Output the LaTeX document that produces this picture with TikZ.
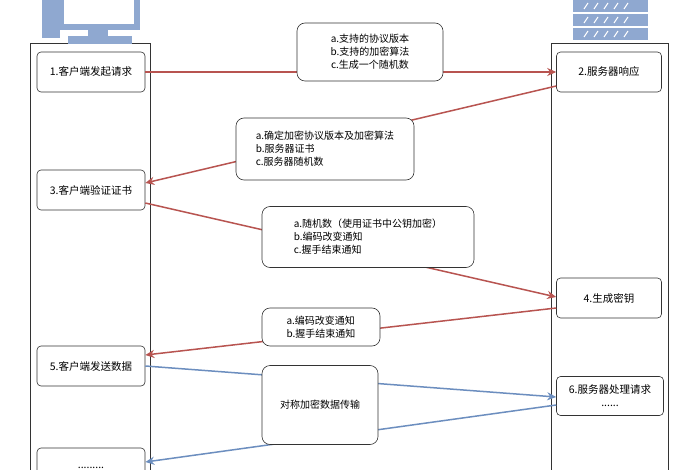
\documentclass[tikz,border=0pt]{standalone}
\usepackage{fontspec}
\setmainfont{Noto Sans CJK SC}
\usetikzlibrary{arrows.meta}
\definecolor{redl}{HTML}{B85450}
\definecolor{bluel}{HTML}{6C8EBF}
\definecolor{icon}{HTML}{8FA8D0}
\tikzset{
 col/.style={draw=black!80,line width=0.6pt,fill=white},
 stepbox/.style={draw=black!80,rounded corners=4pt,fill=white,line width=0.6pt,font=\fontsize{10.5}{13}\selectfont,align=center},
 lbl/.style={draw=black!80,rounded corners=8pt,fill=white,line width=0.6pt,font=\fontsize{10}{13}\selectfont,align=left},
 ra/.style={draw=redl,line width=1.5pt,-{Stealth[length=9pt,width=8pt]}},
 ba/.style={draw=bluel,line width=1.5pt,-{Stealth[length=9pt,width=8pt]}}
}
\begin{document}
\begin{tikzpicture}[x=1pt,y=-1pt]
\useasboundingbox[fill=white] (0,0) rectangle (700,470);
% columns
\draw[col] (30,43) rectangle (150,475);
\draw[col] (551,43) rectangle (668,475);
% computer icon
\fill[icon] (42,0) rectangle (60,38);
\fill[icon] (58,0) rectangle (140,30);
\fill[white] (64,0) rectangle (134,24);
\fill[icon] (88,30) rectangle (108,36);
\fill[icon] (68,36) rectangle (132,44);
% server icon
\foreach \yy in {0,14,28}{
 \fill[icon] (573,\yy) rectangle (648,\yy+12);
 \foreach \xx in {584,594,604,614,624}{\draw[white,line width=1pt] (\xx,\yy+9)--(\xx+4,\yy+3);}
}
% step boxes
\node[stepbox,minimum width=108pt,minimum height=40pt] (s1) at (91,72) {1.客户端发起请求};
\node[stepbox,minimum width=105pt,minimum height=40pt] (s2) at (609,72) {2.服务器响应};
\node[stepbox,minimum width=108pt,minimum height=40pt] (s3) at (91,190) {3.客户端验证证书};
\node[stepbox,minimum width=105pt,minimum height=40pt] (s4) at (609,298) {4.生成密钥};
\node[stepbox,minimum width=108pt,minimum height=40pt] (s5) at (91,366) {5.客户端发送数据};
\node[stepbox,minimum width=107pt,minimum height=39pt,align=center] (s6) at (610,396) {6.服务器处理请求\\......};
\node[stepbox,minimum width=108pt,minimum height=40pt] (s7) at (91,468) {.........};
% arrows
\draw[ra] (s1.east) -- (s2.west);
\draw[ra] ([yshift=-14pt]s2.west) -- ([yshift=7pt]s3.east);
\draw[ra] ([yshift=-13pt]s3.east) -- ([yshift=1pt]s4.west);
\draw[ra] ([yshift=-10pt]s4.west) -- ([yshift=11pt]s5.east);
\draw[ba] (s5.east) -- ([yshift=-1pt]s6.west);
\draw[ba] ([yshift=-9pt]s6.west) -- ([yshift=6pt]s7.east);
% labels
\node[lbl,align=center,minimum width=146pt,minimum height=58pt] (l1) at (370,52) {a.支持的协议版本\\b.支持的加密算法\\c.生成一个随机数};
\node[lbl,minimum width=178pt,minimum height=62pt] (l2) at (325,149) {a.确定加密协议版本及加密算法\\b.服务器证书\\c.服务器随机数};
\node[lbl,minimum width=212pt,minimum height=61pt] (l3) at (368,237) {a.随机数（使用证书中公钥加密）\\b.编码改变通知\\c.握手结束通知};
\node[lbl,minimum width=118pt,minimum height=38pt] (l4) at (321,327) {a.编码改变通知\\b.握手结束通知};
\node[lbl,minimum width=116pt,minimum height=79pt] (l5) at (320,405) {对称加密数据传输};
\end{tikzpicture}
\end{document}
